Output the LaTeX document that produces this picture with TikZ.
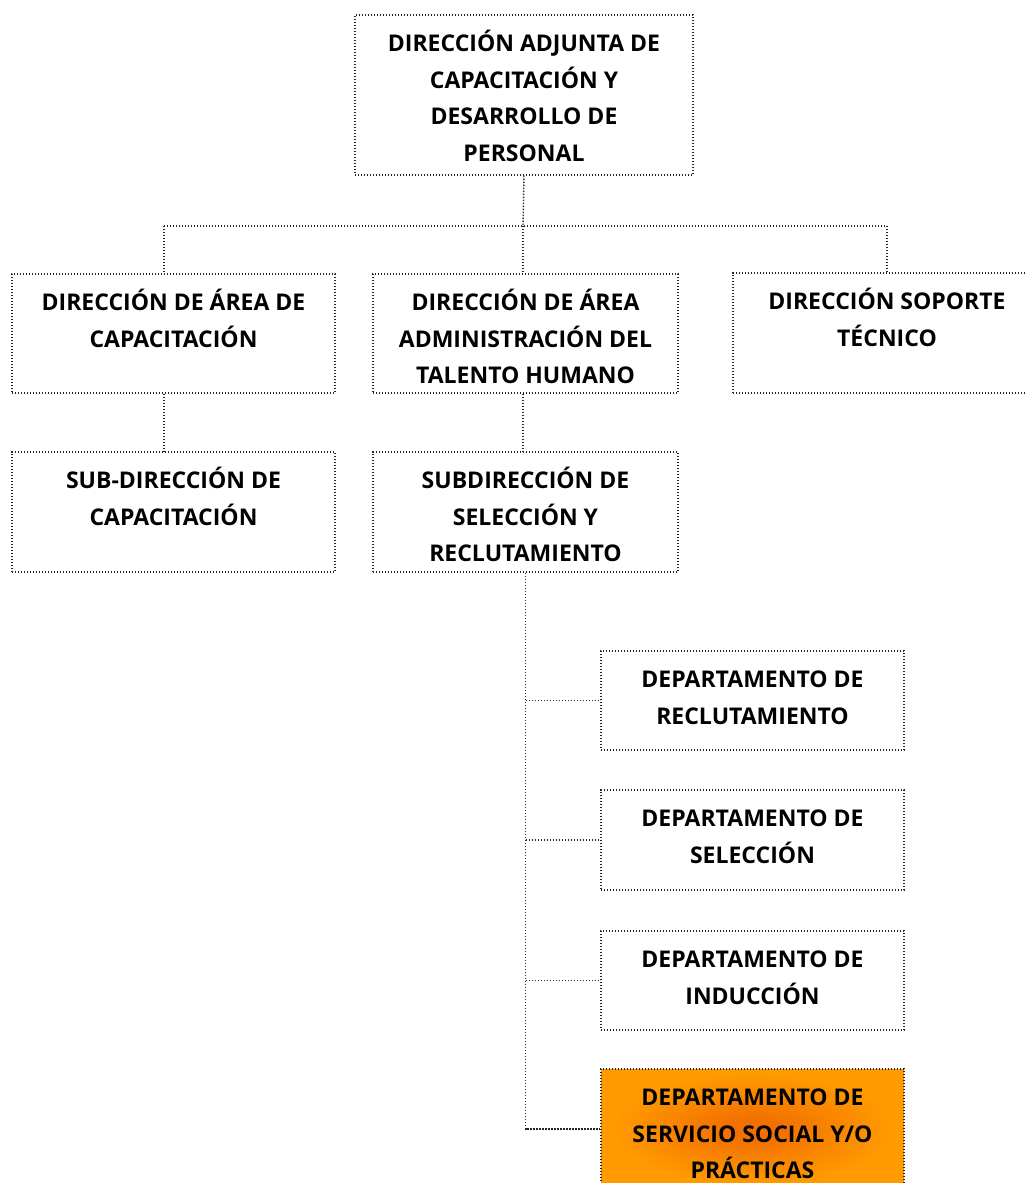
\documentclass[tikz,border=0pt]{standalone}
\usepackage{fontspec}
\setmainfont{Open Sans}
\definecolor{orD}{RGB}{242,112,0}
\definecolor{orL}{RGB}{255,154,0}
\pgfdeclareradialshading{orgshade}{\pgfpoint{0bp}{0bp}}{color(0bp)=(orD); color(4bp)=(orD); color(23bp)=(orL); color(50bp)=(orL)}
\begin{document}
\begin{tikzpicture}[x=1pt,y=-1pt,
  box/.style={draw=black!85, line width=1.4pt, dash pattern=on 1.4pt off 1.6pt, rectangle, inner sep=0pt},
  lbl/.style={anchor=north, align=center, font=\bfseries\fontsize{23}{36.7}\selectfont, inner sep=0pt},
  conn/.style={draw=black!85, line width=1.4pt, dash pattern=on 1.4pt off 1.6pt}]
\useasboundingbox (0,0) rectangle (1025,1183);
\clip (0,0) rectangle (1025,1183);
% boxes
\node[box, minimum width=338pt, minimum height=160pt] (top) at (524,95) {};
\node[box, minimum width=323pt, minimum height=119pt] (dA) at (173.5,333.5) {};
\node[box, minimum width=305pt, minimum height=119pt] (dB) at (525.5,333.5) {};
\node[box, minimum width=308pt, minimum height=120pt] (dC) at (887,333) {};
\node[box, minimum width=323pt, minimum height=120pt] (sA) at (173.5,512) {};
\node[box, minimum width=305pt, minimum height=120pt] (sB) at (525.5,512) {};
\node[box, minimum width=303pt, minimum height=99pt] (d1) at (752.5,700.5) {};
\node[box, minimum width=303pt, minimum height=100pt] (d2) at (752.5,840) {};
\node[box, minimum width=303pt, minimum height=99pt] (d3) at (752.5,980.5) {};
\node[box, shading=orgshade, minimum width=303pt, minimum height=120pt] (d4) at (752.5,1129) {};
% labels
\node[lbl] (ttop) at ([yshift=-11.3pt]top.north) {\strut DIRECCIÓN ADJUNTA DE\\CAPACITACIÓN Y\\DESARROLLO DE\\PERSONAL};
\node[lbl] (tdA) at ([yshift=-11.3pt]dA.north) {\strut DIRECCIÓN DE ÁREA DE\\CAPACITACIÓN};
\node[lbl] (tdB) at ([yshift=-11.3pt]dB.north) {\strut DIRECCIÓN DE ÁREA\\ADMINISTRACIÓN DEL\\TALENTO HUMANO};
\node[lbl] (tdC) at ([yshift=-11.3pt]dC.north) {\strut DIRECCIÓN SOPORTE\\TÉCNICO};
\node[lbl] (tsA) at ([yshift=-11.3pt]sA.north) {\strut SUB-DIRECCIÓN DE\\CAPACITACIÓN};
\node[lbl] (tsB) at ([yshift=-11.3pt]sB.north) {\strut SUBDIRECCIÓN DE\\SELECCIÓN Y\\RECLUTAMIENTO};
\node[lbl] (td1) at ([yshift=-11.3pt]d1.north) {\strut DEPARTAMENTO DE\\RECLUTAMIENTO};
\node[lbl] (td2) at ([yshift=-11.3pt]d2.north) {\strut DEPARTAMENTO DE\\SELECCIÓN};
\node[lbl] (td3) at ([yshift=-11.3pt]d3.north) {\strut DEPARTAMENTO DE\\INDUCCIÓN};
\node[lbl] (td4) at ([yshift=-11.3pt]d4.north) {\strut DEPARTAMENTO DE\\SERVICIO SOCIAL Y/O\\PRÁCTICAS};
% connectors
\coordinate (bus) at (523,226);
\coordinate (jA) at (164,226);
\coordinate (jC) at (887,226);
\draw[conn] (top.south) -- (bus);
\draw[conn] (jA) -- (jC);
\draw[conn] (jA) -- (jA |- dA.north);
\draw[conn] (bus) -- (bus |- dB.north);
\draw[conn] (jC) -- (dC.north);
\draw[conn] (dA.south -| jA) -- (sA.north -| jA);
\draw[conn] (dB.south -| bus) -- (sB.north -| bus);
\draw[conn] (sB.south) -- (sB.south |- d4.west) -- (d4.west);
\draw[conn] (sB.south |- d1.west) -- (d1.west);
\draw[conn] (sB.south |- d2.west) -- (d2.west);
\draw[conn] (sB.south |- d3.west) -- (d3.west);
\end{tikzpicture}
\end{document}
